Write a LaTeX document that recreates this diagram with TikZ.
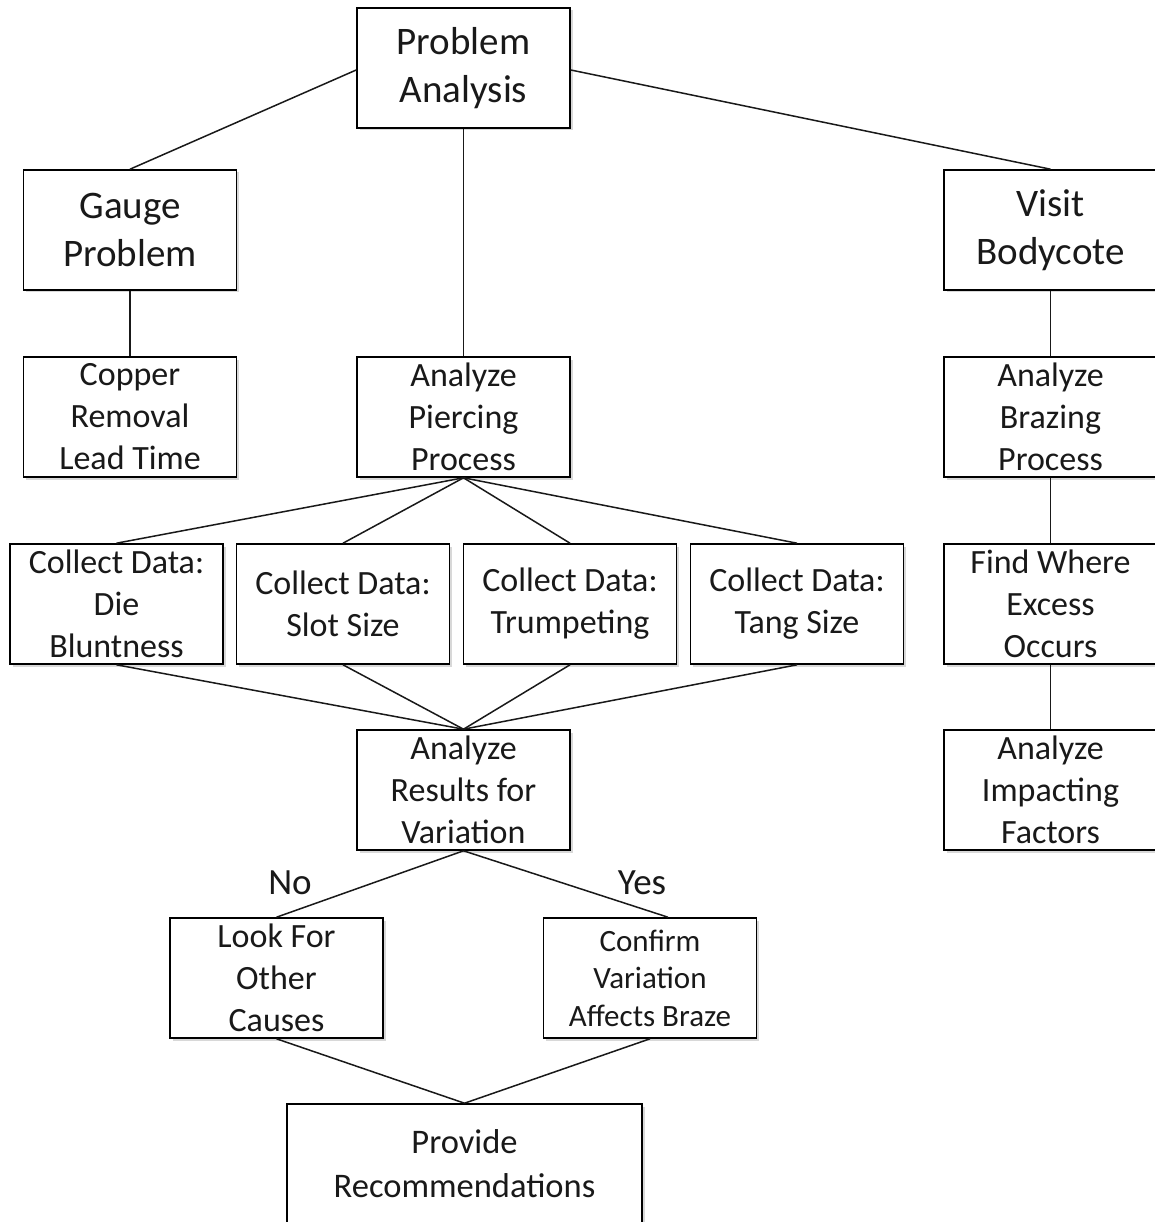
\documentclass[tikz,border=0pt]{standalone}
\usepackage{fontspec}
\setmainfont{Carlito}
\usetikzlibrary{shadows,calc}
\tikzset{
  box/.style={draw=black, line width=1.6pt, fill=white, rectangle,
    minimum width=213pt, minimum height=120pt, inner sep=0pt, align=center,
    text=black!90,
    drop shadow={shadow xshift=2.5pt, shadow yshift=-2.5pt, opacity=0.3, fill=black!50}},
  bigtxt/.style={font=\fontsize{39}{48}\selectfont},
  midtxt/.style={font=\fontsize{34}{42}\selectfont},
  smalltxt/.style={font=\fontsize{31}{37.5}\selectfont},
  link/.style={draw=black!90, line width=1.5pt},
  branch/.style={font=\fontsize{37}{44}\selectfont, text=black!90, inner sep=0pt}
}
\begin{document}
\begin{tikzpicture}[x=1pt, y=-1pt]
\fill[white] (0,0) rectangle (1154,1222);
\useasboundingbox (0,0) rectangle (1154,1222);

% top level
\node[box, bigtxt] (pa) at (463.5,68) {Problem\\Analysis};
\node[box, bigtxt] (gauge) at (130,230) {Gauge\\Problem};
\node[box, bigtxt] (visit) at (1050.5,230) {Visit\\Bodycote};

% second level
\node[box, midtxt] (copper) at (130,417) {Copper\\Removal\\Lead Time};
\node[box, midtxt] (pierce) at (463.5,417) {Analyze\\Piercing\\Process};
\node[box, midtxt] (braze) at (1050.5,417) {Analyze\\Brazing\\Process};

% data collection
\node[box, midtxt] (die) at (116.5,604) {Collect Data:\\Die\\Bluntness};
\node[box, midtxt] (slot) at (343,604) {Collect Data:\\Slot Size};
\node[box, midtxt] (trump) at (570,604) {Collect Data:\\Trumpeting};
\node[box, midtxt] (tang) at (797,604) {Collect Data:\\Tang Size};
\node[box, midtxt] (excess) at (1050.5,604) {Find Where\\Excess\\Occurs};

% analysis
\node[box, midtxt] (results) at (463.5,790) {Analyze\\Results for\\Variation};
\node[box, midtxt] (factors) at (1050.5,790) {Analyze\\Impacting\\Factors};

% outcomes
\node[box, midtxt] (other) at (276.5,978) {Look For\\Other\\Causes};
\node[box, smalltxt] (confirm) at (650,978) {Confirm\\Variation\\Affects Braze};
\node[box, minimum width=355pt, font=\fontsize{34.5}{44}\selectfont] (recs) at (464.5,1164) {Provide\\Recommendations};

% branch labels
\node[branch] (no) at (290,883) {No};
\node[branch] (yes) at (642,883) {Yes};

% connectors
\draw[link] ($(pa.west)+(0,2)$) -- (gauge.north);
\draw[link] (pa.south) -- (pierce.north);
\draw[link] ($(pa.east)+(0,2)$) -- (visit.north);
\draw[link] (gauge.south) -- (copper.north);
\draw[link] (visit.south) -- (braze.north);
\draw[link] (braze.south) -- (excess.north);
\draw[link] (excess.south) -- (factors.north);
\draw[link] (pierce.south) -- (die.north);
\draw[link] (pierce.south) -- (slot.north);
\draw[link] (pierce.south) -- (trump.north);
\draw[link] (pierce.south) -- (tang.north);
\draw[link] (die.south) -- (results.north);
\draw[link] (slot.south) -- (results.north);
\draw[link] (trump.south) -- (results.north);
\draw[link] (tang.south) -- (results.north);
\draw[link] (results.south) -- (other.north);
\draw[link] (results.south) -- ($(confirm.north)+(18,0)$);
\draw[link] (other.south) -- (recs.north);
\draw[link] (confirm.south) -- (recs.north);
\end{tikzpicture}
\end{document}
